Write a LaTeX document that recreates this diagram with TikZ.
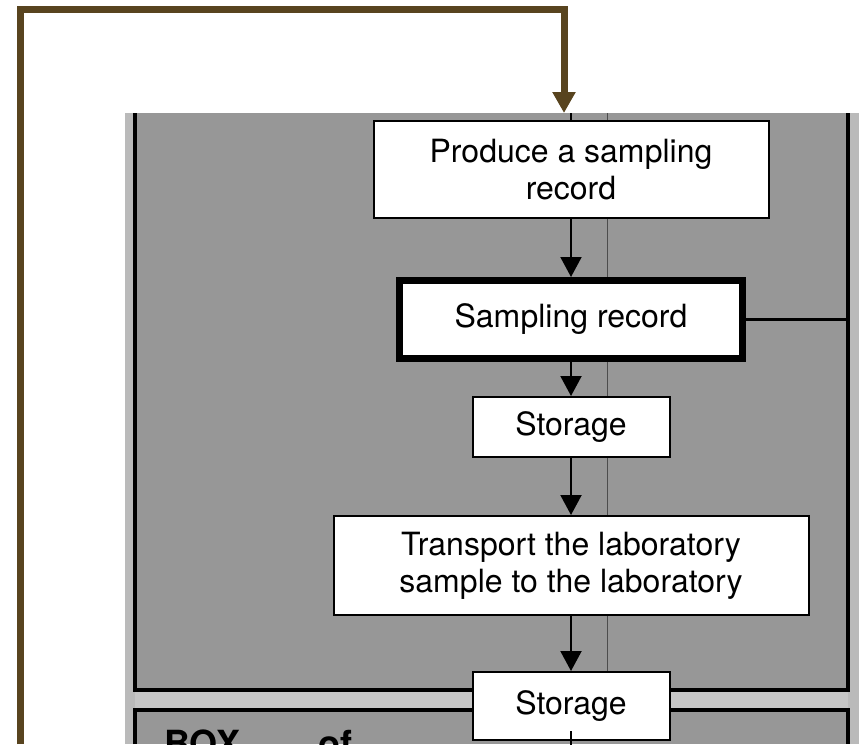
\documentclass[tikz,border=0pt]{standalone}
\usepackage{fontspec}
\setsansfont{TeX Gyre Heros}
\usetikzlibrary{arrows.meta, positioning}
\definecolor{cbrown}{HTML}{58441F}
\definecolor{cpanel}{HTML}{979797}
\definecolor{cband}{HTML}{C6C6C6}
\definecolor{cedge}{HTML}{BABABA}
\tikzset{
  every picture/.style={font=\sffamily, line width=2pt},
  box/.style={draw=black, fill=white, align=center, inner sep=0pt, line width=2pt, font=\sffamily\fontsize{32}{37}\selectfont},
  recbox/.style={box, line width=7pt},
  flow/.style={-{Triangle[length=20pt, width=21pt]}, draw=black, line width=2pt},
  feedback/.style={-{Triangle[length=21pt, width=22pt]}, draw=cbrown, line width=7pt},
  panelline/.style={draw=black, line width=4pt},
  boxtitle/.style={font=\sffamily\bfseries\fontsize{36}{40}\selectfont, anchor=base west, inner sep=0pt},
}

\begin{document}
\begin{tikzpicture}[x=1pt, y=-1pt]
  \useasboundingbox (0,0) rectangle (859,744);
  \clip (0,0) rectangle (859,744);
  % ---- shaded panels
  \fill[cedge] (125,113) rectangle (859,744);
  \fill[cpanel] (135,113) rectangle (848,690);
  \fill[cband] (135,690) rectangle (848,710);
  \fill[cpanel] (135,710) rectangle (848,744);
  \draw[panelline] (135,113) -- (135,690) -- (848,690) -- (848,113);
  \draw[panelline] (135,744) -- (135,710) -- (848,710) -- (848,744);
  \draw[black!70, line width=0.8pt] (607,113) -- (607,690);
  \node[boxtitle] (boxname) at (163,756) {BOX};
  \node[boxtitle] (boxof) at (317,756) {of};
  % ---- flow boxes
  \node[box, minimum width=395pt, minimum height=97pt] (produce) at (571,169.5) {Produce a sampling\\record};
  \node[recbox, minimum width=343pt, minimum height=78pt] (samprec) at (571,319.5) {Sampling record};
  \node[box, minimum width=197pt, minimum height=60pt] (storeA) at (571,427) {Storage};
  \node[box, minimum width=475pt, minimum height=99pt] (transport) at (571,565.5) {Transport the laboratory\\sample to the laboratory};
  \node[box, minimum width=197pt, minimum height=68pt] (storeB) at (571,706) {Storage};
  % ---- connectors
  \coordinate (fromtop) at (571,113);
  \coordinate (rightedge) at (848,319.5);
  \coordinate (exit) at (571,760);
  \draw (fromtop) -- (produce);
  \draw[flow] (produce) -- (samprec);
  \draw[flow] (samprec) -- (storeA);
  \draw[flow] (storeA) -- (transport);
  \draw[flow] (transport) -- (storeB);
  \draw[line width=2.5pt] (samprec.east) -- (rightedge);
  \draw ([yshift=10pt]storeB.south) -- (exit);
  % ---- feedback loop
  \coordinate (fbstart) at (20,744);
  \coordinate (fbend) at (564,113);
  \draw[feedback] (fbstart) -- ++(0,-735) -| (fbend);
\end{tikzpicture}
\end{document}
